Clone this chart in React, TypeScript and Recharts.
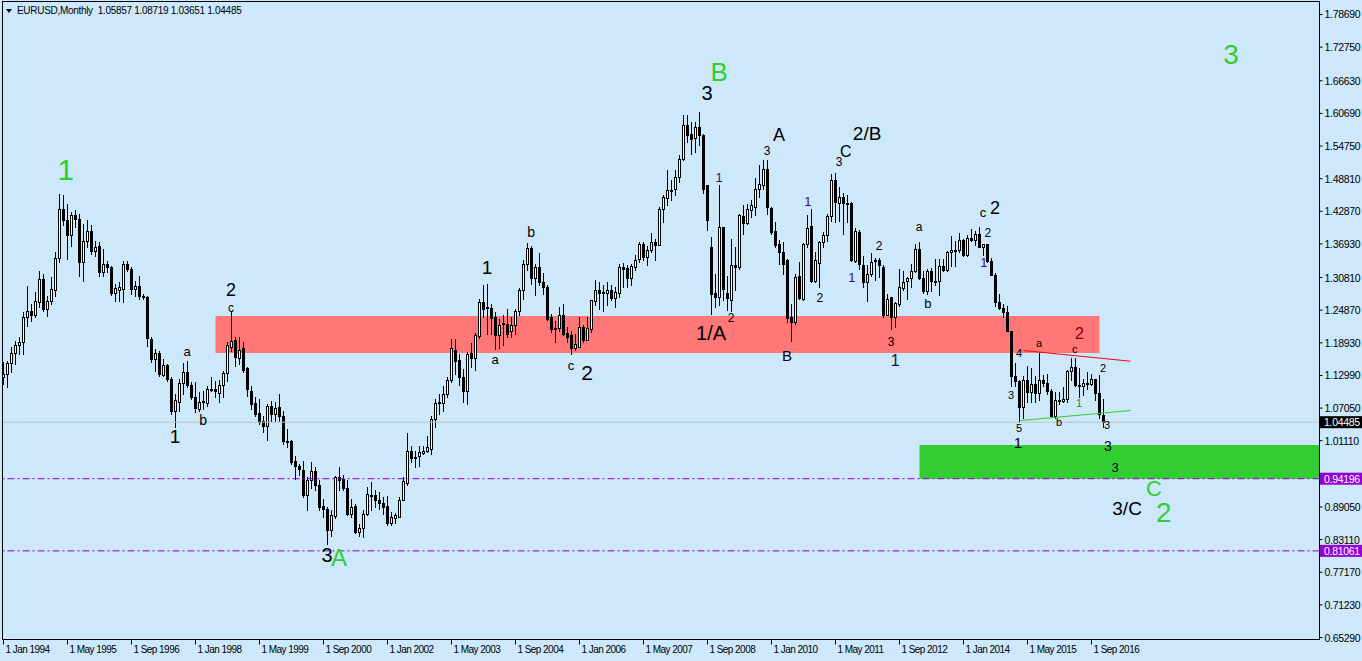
import React from "react";
import {
  ComposedChart,
  Bar,
  Scatter,
  XAxis,
  YAxis,
  ReferenceArea,
  ReferenceLine,
} from "recharts";

const W = 1362;
const H = 661;
const BG = "#cde8fa";
const FONT = '"Liberation Sans", Arial, sans-serif';

// EURUSD monthly, Jan 1994 .. Dec 2016, one row per year
const opens = [
  1.1270, 1.1330, 1.1522, 1.1710, 1.1855, 1.1904, 1.2372, 1.2481, 1.2402, 1.2645, 1.3057, 1.2511,
  1.2663, 1.2857, 1.3440, 1.4332, 1.4132, 1.3859, 1.4211, 1.4140, 1.3361, 1.3755, 1.3925, 1.3561,
  1.3664, 1.3179, 1.3331, 1.3282, 1.2796, 1.2857, 1.2870, 1.3331, 1.3239, 1.2875, 1.2930, 1.2754,
  1.2724, 1.1971, 1.1601, 1.1710, 1.1315, 1.1491, 1.1243, 1.0660, 1.0812, 1.1157, 1.1364, 1.1133,
  1.0915, 1.0690, 1.0812, 1.0793, 1.1054, 1.1060, 1.0981, 1.1121, 1.1346, 1.1814, 1.1947, 1.1614,
  1.1800, 1.1432, 1.1025, 1.0801, 1.0619, 1.0461, 1.0388, 1.0734, 1.0600, 1.0722, 1.0570, 1.0103,
  1.0115, 0.9739, 0.9660, 0.9587, 0.9126, 0.9387, 0.9551, 0.9296, 0.8914, 0.8866, 0.8489, 0.8732,
  0.9448, 0.9418, 0.9254, 0.8781, 0.8914, 0.8447, 0.8526, 0.8781, 0.9126, 0.9126, 0.9023, 0.8981,
  0.8920, 0.8611, 0.8708, 0.8720, 0.9023, 0.9339, 0.9933, 0.9794, 0.9842, 0.9885, 0.9933, 0.9964,
  1.0510, 1.0801, 1.0795, 1.0953, 1.1219, 1.1754, 1.1572, 1.1268, 1.1013, 1.1705, 1.1620, 1.2015,
  1.2645, 1.2536, 1.2530, 1.2360, 1.2027, 1.2227, 1.2227, 1.2105, 1.2221, 1.2469, 1.2846, 1.3331,
  1.3616, 1.3076, 1.3282, 1.2997, 1.2906, 1.2360, 1.2142, 1.2160, 1.2391, 1.2069, 1.2027, 1.1802,
  1.1826, 1.2190, 1.1948, 1.2136, 1.2651, 1.2846, 1.2797, 1.2797, 1.2858, 1.2712, 1.2797, 1.3282,
  1.3252, 1.3076, 1.3270, 1.3416, 1.3695, 1.3460, 1.3590, 1.3725, 1.3677, 1.4320, 1.4532, 1.4678,
  1.4696, 1.4908, 1.5242, 1.5849, 1.5697, 1.5619, 1.5818, 1.5679, 1.4757, 1.3635, 1.2803, 1.2724,
  1.3998, 1.2797, 1.2664, 1.3301, 1.3270, 1.4193, 1.4077, 1.4302, 1.4374, 1.4696, 1.4769, 1.5061,
  1.4350, 1.3920, 1.3683, 1.3555, 1.3404, 1.2360, 1.2269, 1.3118, 1.2694, 1.3683, 1.4016, 1.3015,
  1.3343, 1.3725, 1.3859, 1.4198, 1.4860, 1.4441, 1.4544, 1.4435, 1.4435, 1.3379, 1.3919, 1.3313,
  1.2997, 1.3137, 1.3379, 1.3409, 1.3282, 1.2403, 1.2724, 1.2360, 1.2603, 1.2894, 1.3027, 1.3070,
  1.3200, 1.3600, 1.3075, 1.2845, 1.3209, 1.3015, 1.3010, 1.3300, 1.3222, 1.3540, 1.3580, 1.3590,
  1.3760, 1.3490, 1.3800, 1.3770, 1.3870, 1.3630, 1.3690, 1.3390, 1.3130, 1.2630, 1.2520, 1.2450,
  1.2100, 1.1290, 1.1190, 1.0730, 1.1220, 1.0990, 1.1150, 1.0980, 1.1210, 1.1170, 1.1010, 1.0570,
  1.0860, 1.0830, 1.0870, 1.1380, 1.1450, 1.1130, 1.1100, 1.1170, 1.1150, 1.1240, 1.0980, 1.05857,
];

const highs = [
  1.1540, 1.1570, 1.1813, 1.1934, 1.1995, 1.2450, 1.2936, 1.2602, 1.2815, 1.3209, 1.3148, 1.2754,
  1.3088, 1.3543, 1.4593, 1.4575, 1.4411, 1.4271, 1.4302, 1.4241, 1.4059, 1.4120, 1.4029, 1.3755,
  1.3725, 1.3604, 1.3391, 1.3300, 1.2966, 1.2997, 1.3391, 1.3391, 1.3282, 1.3027, 1.3118, 1.2784,
  1.2754, 1.1995, 1.1783, 1.1752, 1.1601, 1.1510, 1.1267, 1.0963, 1.1236, 1.1522, 1.1570, 1.1176,
  1.1176, 1.0994, 1.1024, 1.1115, 1.1267, 1.1206, 1.1218, 1.1388, 1.1904, 1.2451, 1.2008, 1.1996,
  1.1905, 1.1450, 1.1116, 1.0904, 1.0874, 1.0570, 1.0783, 1.0843, 1.0813, 1.0953, 1.0661, 1.0328,
  1.0133, 0.9842, 0.9690, 0.9739, 0.9448, 0.9721, 0.9630, 0.9387, 0.9053, 0.8902, 0.8841, 0.9460,
  0.9630, 0.9490, 0.9387, 0.9053, 0.8963, 0.8598, 0.8841, 0.9266, 0.9357, 0.9205, 0.9175, 0.9084,
  0.9096, 0.8811, 0.8800, 0.9084, 0.9448, 1.0249, 1.0024, 0.9933, 1.0012, 1.0024, 1.0206, 1.0552,
  1.0874, 1.0965, 1.1116, 1.1268, 1.1966, 1.1966, 1.1693, 1.1420, 1.1723, 1.1887, 1.2069, 1.2694,
  1.2949, 1.2967, 1.2603, 1.2451, 1.2330, 1.2391, 1.2512, 1.2360, 1.2512, 1.2888, 1.3392, 1.3707,
  1.3647, 1.3331, 1.3525, 1.3161, 1.2937, 1.2421, 1.2299, 1.2542, 1.2591, 1.2178, 1.2105, 1.2057,
  1.2360, 1.2209, 1.2360, 1.2676, 1.3028, 1.2997, 1.2937, 1.2997, 1.2937, 1.2906, 1.3319, 1.3343,
  1.3301, 1.3331, 1.3483, 1.3737, 1.3725, 1.3653, 1.3901, 1.3786, 1.4362, 1.4575, 1.5030, 1.4848,
  1.5030, 1.5303, 1.6031, 1.6031, 1.5909, 1.5909, 1.6103, 1.5697, 1.4757, 1.3816, 1.3149, 1.4769,
  1.4010, 1.3118, 1.3786, 1.3635, 1.4241, 1.4393, 1.4423, 1.4496, 1.4896, 1.5121, 1.5212, 1.5212,
  1.4374, 1.4089, 1.3756, 1.3725, 1.3422, 1.2603, 1.3149, 1.3361, 1.3707, 1.4211, 1.4332, 1.3543,
  1.3755, 1.3907, 1.4241, 1.4969, 1.4981, 1.4726, 1.4617, 1.4575, 1.4453, 1.3986, 1.3938, 1.3482,
  1.3301, 1.3531, 1.3440, 1.3440, 1.3301, 1.2785, 1.2724, 1.2633, 1.3240, 1.3209, 1.3088, 1.3320,
  1.3700, 1.3720, 1.3200, 1.3240, 1.3260, 1.3410, 1.3420, 1.3420, 1.3560, 1.3830, 1.3750, 1.3900,
  1.3780, 1.3850, 1.3970, 1.3930, 1.4000, 1.3700, 1.3700, 1.3440, 1.3170, 1.2780, 1.2600, 1.2570,
  1.2100, 1.1530, 1.1220, 1.1290, 1.1465, 1.1435, 1.1280, 1.1715, 1.1300, 1.1330, 1.1050, 1.0990,
  1.0995, 1.1090, 1.1400, 1.1615, 1.1620, 1.1430, 1.1230, 1.1370, 1.1330, 1.1240, 1.1300, 1.08719,
];

const lows = [
  1.1145, 1.1085, 1.1358, 1.1510, 1.1692, 1.1692, 1.2208, 1.2299, 1.2359, 1.2541, 1.2481, 1.2390,
  1.2602, 1.2754, 1.3361, 1.4029, 1.3422, 1.3664, 1.3998, 1.3118, 1.3027, 1.3634, 1.3513, 1.3482,
  1.3118, 1.3118, 1.3179, 1.2772, 1.2663, 1.2663, 1.2633, 1.3209, 1.2784, 1.2754, 1.2693, 1.2693,
  1.1831, 1.1540, 1.1388, 1.1297, 1.1297, 1.1206, 1.0599, 1.0356, 1.0660, 1.0963, 1.1085, 1.0872,
  1.0629, 1.0660, 1.0690, 1.0751, 1.1024, 1.0902, 1.0812, 1.0902, 1.1206, 1.1753, 1.1480, 1.1511,
  1.1359, 1.0934, 1.0692, 1.0570, 1.0419, 1.0267, 1.0127, 1.0479, 1.0479, 1.0479, 1.0054, 0.9994,
  0.9690, 0.9418, 0.9496, 0.9084, 0.8853, 0.9254, 0.9205, 0.8841, 0.8720, 0.8235, 0.8368, 0.8708,
  0.9205, 0.9205, 0.8750, 0.8720, 0.8429, 0.8368, 0.8356, 0.8750, 0.8841, 0.8902, 0.8872, 0.8781,
  0.8580, 0.8568, 0.8620, 0.8720, 0.9023, 0.9314, 0.9721, 0.9630, 0.9660, 0.9873, 0.9903, 0.9873,
  1.0358, 1.0600, 1.0661, 1.0904, 1.1177, 1.1329, 1.1117, 1.0813, 1.0783, 1.1450, 1.1402, 1.1978,
  1.2360, 1.2057, 1.2057, 1.1784, 1.1802, 1.1845, 1.1996, 1.2008, 1.2057, 1.2391, 1.2694, 1.3210,
  1.2967, 1.2755, 1.2937, 1.2785, 1.2312, 1.2087, 1.1905, 1.2117, 1.2027, 1.1905, 1.1681, 1.1754,
  1.1814, 1.1905, 1.1936, 1.2087, 1.2573, 1.2512, 1.2481, 1.2573, 1.2664, 1.2542, 1.2724, 1.2906,
  1.2906, 1.2937, 1.3210, 1.3361, 1.3392, 1.3301, 1.3543, 1.3404, 1.3665, 1.4089, 1.4393, 1.4484,
  1.4575, 1.4817, 1.5212, 1.5545, 1.5333, 1.5363, 1.5485, 1.4617, 1.3938, 1.2421, 1.2542, 1.2573,
  1.2664, 1.2494, 1.2481, 1.2846, 1.3240, 1.3877, 1.4059, 1.4180, 1.4211, 1.4544, 1.4696, 1.4241,
  1.3877, 1.3635, 1.3331, 1.3149, 1.2269, 1.1935, 1.2239, 1.2694, 1.2664, 1.3634, 1.2997, 1.2997,
  1.2906, 1.3634, 1.3755, 1.4119, 1.4089, 1.4107, 1.3877, 1.4089, 1.3391, 1.3361, 1.3240, 1.2906,
  1.2663, 1.3118, 1.3040, 1.3100, 1.2360, 1.2391, 1.2148, 1.2178, 1.2572, 1.2846, 1.2694, 1.2906,
  1.3190, 1.3060, 1.2800, 1.2780, 1.2840, 1.2950, 1.2755, 1.3200, 1.3200, 1.3300, 1.3300, 1.3550,
  1.3480, 1.3470, 1.3750, 1.3670, 1.3630, 1.3500, 1.3370, 1.3130, 1.2570, 1.2500, 1.2360, 1.2100,
  1.1100, 1.1100, 1.0460, 1.0530, 1.0820, 1.0820, 1.0810, 1.0850, 1.1100, 1.0965, 1.0560, 1.0530,
  1.0780, 1.0810, 1.0820, 1.1220, 1.1100, 1.0910, 1.0950, 1.1050, 1.1120, 1.0850, 1.0520, 1.03651,
];

const closes = [
  1.1330, 1.1522, 1.1710, 1.1855, 1.1904, 1.2372, 1.2481, 1.2402, 1.2663, 1.3057, 1.2511, 1.2663,
  1.2875, 1.3440, 1.4332, 1.4132, 1.3859, 1.4211, 1.4140, 1.3361, 1.3755, 1.3925, 1.3561, 1.3634,
  1.3179, 1.3331, 1.3282, 1.2796, 1.2887, 1.2900, 1.3331, 1.3239, 1.2875, 1.2930, 1.2754, 1.2724,
  1.1983, 1.1601, 1.1710, 1.1327, 1.1491, 1.1230, 1.0660, 1.0854, 1.1157, 1.1358, 1.1121, 1.0902,
  1.0708, 1.0812, 1.0830, 1.1054, 1.1060, 1.1020, 1.1127, 1.1346, 1.1860, 1.1935, 1.1632, 1.1765,
  1.1401, 1.1056, 1.0783, 1.0600, 1.0449, 1.0388, 1.0734, 1.0600, 1.0710, 1.0552, 1.0103, 1.0115,
  0.9721, 0.9660, 0.9600, 0.9114, 0.9387, 0.9551, 0.9296, 0.8902, 0.8872, 0.8489, 0.8750, 0.9448,
  0.9399, 0.9254, 0.8781, 0.8902, 0.8447, 0.8520, 0.8781, 0.9145, 0.9102, 0.9023, 0.8981, 0.8902,
  0.8611, 0.8720, 0.8750, 0.9023, 0.9369, 0.9933, 0.9794, 0.9810, 0.9903, 0.9933, 0.9994, 1.0510,
  1.0801, 1.0813, 1.0953, 1.1219, 1.1802, 1.1560, 1.1268, 1.1013, 1.1693, 1.1620, 1.2039, 1.2645,
  1.2500, 1.2530, 1.2348, 1.2027, 1.2221, 1.2251, 1.2057, 1.2221, 1.2481, 1.2846, 1.3331, 1.3616,
  1.3076, 1.3282, 1.2997, 1.2906, 1.2330, 1.2136, 1.2160, 1.2391, 1.2057, 1.2008, 1.1802, 1.1875,
  1.2178, 1.1948, 1.2166, 1.2664, 1.2858, 1.2797, 1.2827, 1.2858, 1.2712, 1.2815, 1.3282, 1.3240,
  1.3076, 1.3289, 1.3404, 1.3695, 1.3460, 1.3590, 1.3725, 1.3665, 1.4320, 1.4544, 1.4678, 1.4654,
  1.4920, 1.5242, 1.5849, 1.5667, 1.5606, 1.5818, 1.5667, 1.4696, 1.4132, 1.2785, 1.2724, 1.4010,
  1.2876, 1.2712, 1.3301, 1.3270, 1.4211, 1.4071, 1.4320, 1.4393, 1.4696, 1.4787, 1.5061, 1.4374,
  1.3908, 1.3677, 1.3543, 1.3331, 1.2342, 1.2269, 1.3100, 1.2712, 1.3683, 1.3986, 1.3015, 1.3403,
  1.3737, 1.3859, 1.4210, 1.4860, 1.4453, 1.4544, 1.4441, 1.4423, 1.3409, 1.3925, 1.3331, 1.2997,
  1.3137, 1.3373, 1.3403, 1.3301, 1.2391, 1.2694, 1.2360, 1.2621, 1.2906, 1.3009, 1.3070, 1.3200,
  1.3600, 1.3075, 1.2845, 1.3209, 1.3010, 1.3010, 1.3300, 1.3222, 1.3540, 1.3580, 1.3590, 1.3760,
  1.3490, 1.3800, 1.3770, 1.3870, 1.3630, 1.3690, 1.3390, 1.3130, 1.2630, 1.2520, 1.2450, 1.2100,
  1.1290, 1.1190, 1.0730, 1.1220, 1.0990, 1.1150, 1.0980, 1.1210, 1.1170, 1.1010, 1.0570, 1.0860,
  1.0830, 1.0870, 1.1380, 1.1450, 1.1130, 1.1100, 1.1170, 1.1150, 1.1240, 1.0980, 1.0590, 1.04485,
];

// month index from Jan 1994
const monthTicks = [0, 16, 32, 48, 64, 80, 96, 112, 128, 144, 160, 176, 192, 208, 224, 240, 256, 272];
const monthLabels = [
  "1 Jan 1994", "1 May 1995", "1 Sep 1996", "1 Jan 1998", "1 May 1999", "1 Sep 2000",
  "1 Jan 2002", "1 May 2003", "1 Sep 2004", "1 Jan 2006", "1 May 2007", "1 Sep 2008",
  "1 Jan 2010", "1 May 2011", "1 Sep 2012", "1 Jan 2014", "1 May 2015", "1 Sep 2016",
];
const priceTicks = [
  1.7869, 1.7275, 1.6663, 1.6069, 1.5475, 1.4881, 1.4287, 1.3693, 1.3081, 1.2487,
  1.1893, 1.1299, 1.0705, 1.0111, 0.8905, 0.8311, 0.7717, 0.7123, 0.6529,
];

const lastPrice = 1.04485;
const levelA = 0.94196;
const levelB = 0.81061;

const G = "#32cd32";
const K = "#000000";
const P = "#3d0a78";
const N = "#14145a";
const R = "#8b0000";
const DG = "#1f8a1f";

// [text, month index, price, colour, font size]
const waveRows: [string, number, number, string, number][] = [
  ["1", 15.6, 1.5039, G, 30],
  ["B", 178.9, 1.6822, G, 26],
  ["3", 306.9, 1.7132, G, 28],
  ["A", 83.9, 0.7994, G, 24],
  ["C", 287.6, 0.9250, G, 22],
  ["2", 290.1, 0.8800, G, 28],
  ["3", 175.9, 1.644, K, 20],
  ["A", 193.9, 1.5676, K, 18],
  ["2/B", 215.9, 1.5694, K, 19],
  ["C", 210.6, 1.5384, K, 16],
  ["3", 190.9, 1.5384, K, 12],
  ["3", 208.9, 1.5184, K, 12],
  ["1", 120.9, 1.3255, K, 19],
  ["b", 131.9, 1.391, K, 14],
  ["2", 56.9, 1.2860, K, 18],
  ["c", 56.9, 1.2525, K, 12],
  ["a", 45.9, 1.1744, K, 13],
  ["b", 49.9, 1.0488, K, 14],
  ["1", 42.9, 1.0179, K, 19],
  ["3", 80.9, 0.8031, K, 20],
  ["a", 122.9, 1.1598, K, 13],
  ["c", 141.9, 1.1489, K, 13],
  ["2", 145.9, 1.1344, K, 21],
  ["1/A", 176.9, 1.2072, K, 20],
  ["2", 181.9, 1.2345, K, 12],
  ["B", 195.9, 1.1671, K, 15],
  ["2", 204.1, 1.2709, K, 12],
  ["2", 218.9, 1.3655, K, 12],
  ["3", 221.9, 1.1908, K, 12],
  ["a", 228.9, 1.4001, K, 12],
  ["b", 231.1, 1.26, K, 13],
  ["c", 244.9, 1.4274, K, 13],
  ["2", 247.9, 1.4347, K, 18],
  ["2", 246.1, 1.3892, K, 12],
  ["4", 253.9, 1.1708, K, 11],
  ["a", 258.9, 1.1884, K, 11],
  ["2", 269.0, 1.2060, R, 16],
  ["c", 267.8, 1.1780, K, 11],
  ["2", 274.9, 1.1439, K, 11],
  ["3", 251.9, 1.0943, K, 11],
  ["5", 253.9, 1.0343, K, 11],
  ["1", 253.6, 1.007, K, 15],
  ["b", 263.9, 1.0452, K, 11],
  ["1", 268.9, 1.0798, DG, 11],
  ["3", 275.9, 1.0406, K, 11],
  ["3", 276.1, 1.0006, K, 14],
  ["3", 277.9, 0.9624, K, 13],
  ["3/C", 280.9, 0.8886, K, 19],
  ["1", 178.9, 1.4911, P, 13],
  ["1", 201.1, 1.4474, P, 13],
  ["1", 212.1, 1.3073, P, 13],
  ["1", 245.1, 1.3364, P, 13],
  ["1", 222.9, 1.158, N, 16],
];

const candles = closes.map((close, i) => {
  const open = opens[i];
  const high = Math.max(highs[i], open, close);
  const low = Math.min(lows[i], open, close);
  return { idx: i, open, high, low, close, range: [low, high] };
});

const waveLabels = waveRows.map(([text, idx, price, color, size]) => ({ text, idx, price, color, size }));

const Candle = (props: any) => {
  const { x, y, width, height, payload } = props;
  if (!payload || height == null || isNaN(y)) return null;
  const { open, close, high, low } = payload;
  const cx = Math.floor(x + width / 2) + 0.5;
  const k = high > low ? height / (high - low) : 0;
  const yO = y + (high - open) * k;
  const yC = y + (high - close) * k;
  const top = Math.round(Math.min(yO, yC));
  const bot = Math.round(Math.max(yO, yC));
  const up = close >= open;
  return (
    <g>
      <line x1={cx} x2={cx} y1={Math.round(y)} y2={Math.round(y + height) + 1} stroke="#000" strokeWidth={1} />
      <rect
        x={cx - 1}
        y={top + 0.5}
        width={2}
        height={Math.max(bot - top, 1)}
        fill={up ? "#fff" : "#000"}
        stroke="#000"
        strokeWidth={1}
      />
    </g>
  );
};

const WaveText = (props: any) => {
  const { cx, cy, payload } = props;
  if (!payload) return null;
  return (
    <text x={cx} y={cy} textAnchor="middle" dominantBaseline="central" fill={payload.color} fontSize={payload.size} fontFamily={FONT}>
      {payload.text}
    </text>
  );
};

const MonthTick = (props: any) => {
  const { x, y, payload } = props;
  const label = monthLabels[monthTicks.indexOf(payload.value)];
  const px = Math.floor(x) + 0.5;
  return (
    <g>
      <line x1={px} x2={px} y1={y} y2={y + 5} stroke="#000" />
      <text x={px + 2} y={y + 13.5} fontSize={10} fill="#000" fontFamily={FONT} letterSpacing={-0.55}>
        {label}
      </text>
    </g>
  );
};

const PriceTick = (props: any) => {
  const { x, y, payload } = props;
  return (
    <text x={x} y={y} dominantBaseline="central" fontSize={10.5} fill="#000" fontFamily={FONT} letterSpacing={-0.3}>
      {Number(payload.value).toFixed(5)}
    </text>
  );
};

const badge = (text: string, bg: string) => (props: any) => {
  const vb = props.viewBox || {};
  const x0 = vb.x + vb.width + 0.5;
  const yy = vb.y;
  return (
    <g>
      <rect x={x0} y={yy - 6} width={W - x0} height={12} fill={bg} />
      <text x={x0 + 4} y={yy} dominantBaseline="central" fill="#fff" fontSize={10.5} fontFamily={FONT} letterSpacing={-0.3}>
        {text}
      </text>
    </g>
  );
};

export default function App() {
  return (
    <div style={{ position: "absolute", left: 0, top: 0, width: W, height: H, background: BG, fontFamily: FONT, overflow: "hidden" }}>
      <ComposedChart width={W} height={H} data={candles} margin={{ top: 2, right: 0, bottom: 0, left: 2 }}>
        <ReferenceArea x1={53} x2={274} y1={1.1708} y2={1.2381} fill="#ff7777" fillOpacity={1} stroke="none" />
        <ReferenceArea x1={229} y1={0.942} y2={1.0033} fill={G} fillOpacity={1} stroke="none" />
        <ReferenceLine y={lastPrice} stroke="#c0c0c0" label={badge("1.04485", "#000")} />
        <ReferenceLine y={levelA} stroke="#8b00c8" strokeDasharray="7 3 2 3" label={badge("0.94196", "#9400d3")} />
        <ReferenceLine y={levelB} stroke="#8b00c8" strokeDasharray="7 3 2 3" label={badge("0.81061", "#9400d3")} />
        <Bar dataKey="range" barSize={3} shape={(p: any) => <Candle {...p} />} isAnimationActive={false} />
        <ReferenceLine segment={[{ x: 255, y: 1.1753 }, { x: 281.75, y: 1.1558 }]} stroke="#ff0000" />
        <ReferenceLine segment={[{ x: 254.25, y: 1.0479 }, { x: 281.75, y: 1.0661 }]} stroke={G} />
        <Scatter data={waveLabels} dataKey="price" shape={(p: any) => <WaveText {...p} />} isAnimationActive={false} />
        <XAxis
          dataKey="idx"
          type="number"
          domain={[-0.375, 329]}
          allowDataOverflow
          ticks={monthTicks}
          interval={0}
          tick={(p: any) => <MonthTick {...p} />}
          tickLine={false}
          tickSize={0}
          tickMargin={0}
          height={21.5}
          axisLine={{ stroke: "#000" }}
        />
        <YAxis
          orientation="right"
          type="number"
          domain={[0.64929, 1.80965]}
          allowDataOverflow
          ticks={priceTicks}
          interval={0}
          width={42.5}
          tickSize={3}
          tickMargin={2}
          tick={(p: any) => <PriceTick {...p} />}
          tickLine={{ stroke: "#000" }}
          axisLine={{ stroke: "#000" }}
        />
      </ComposedChart>
      <div style={{ position: "absolute", left: 2, top: 1, width: 1318, height: 639, borderLeft: "1px solid #000", borderTop: "1px solid #000", boxSizing: "border-box", pointerEvents: "none" }} />
      <div style={{ position: "absolute", left: 6, top: 9, width: 0, height: 0, borderLeft: "3px solid transparent", borderRight: "3px solid transparent", borderTop: "4px solid #000" }} />
      <div style={{ position: "absolute", left: 17, top: 4, fontSize: 10, letterSpacing: -0.3, color: "#000", whiteSpace: "pre", lineHeight: "14px" }}>
        {"EURUSD,Monthly  1.05857 1.08719 1.03651 1.04485"}
      </div>
    </div>
  );
}
